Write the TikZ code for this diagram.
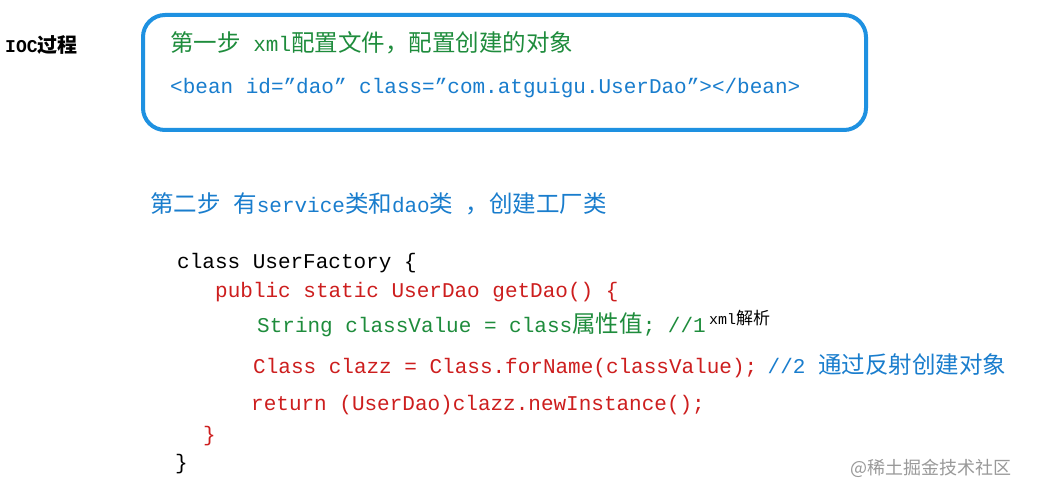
\documentclass[tikz,border=0pt]{standalone}
\usepackage{fontspec}
\setmainfont{Liberation Mono}
\newfontfamily\cjk{Noto Sans CJK SC}
\newcommand{\C}[1]{{\cjk\fontsize{23.5}{23.5}\selectfont #1}}
\definecolor{cgreen}{RGB}{30,140,60}
\definecolor{cblue}{RGB}{25,125,205}
\definecolor{cred}{RGB}{205,30,30}
\definecolor{cbox}{RGB}{30,145,225}
\begin{document}
\begin{tikzpicture}[x=1pt,y=-1pt,
  code/.style={anchor=base west,inner sep=0pt,font=\fontsize{21}{21}\selectfont}]
\useasboundingbox (0,0) rectangle (1038,494);
\fill[white] (0,0) rectangle (1038,494);
\node[code,font=\fontsize{18}{18}\selectfont\bfseries] (ioc) at (5,53) {IOC{\cjk\fontsize{20}{20}\selectfont\bfseries 过程}};
\draw[cbox,line width=4pt,rounded corners=22pt] (143,15) rectangle (866,130);
\node[code,text=cgreen] (s1) at (170,52) {\C{第一步} xml\C{配置文件，配置创建的对象}};
\node[code,text=cblue] (bean) at (170,94) {<bean id="dao" class="com.atguigu.UserDao"></bean>};
\node[code,text=cblue] (s2) at (150,213) {\C{第二步} \C{有}service\C{类和}dao\C{类} \C{，创建工厂类}};
\node[code] (l1) at (177,269) {class UserFactory \{};
\node[code,text=cred] (l2) at (215,298) {public static UserDao getDao() \{};
\node[code,text=cgreen] (l3) at (257,332) {String classValue = class\C{属性值}; //1};
\node[anchor=base west,inner sep=0pt,font=\fontsize{15}{15}\selectfont] (l3b) at ([xshift=3pt,yshift=8pt]l3.base east) {xml{\cjk\fontsize{17}{17}\selectfont 解析}};
\node[code,text=cred] (l4) at (253,373) {Class clazz = Class.forName(classValue);};
\node[code,text=cblue] (l4b) at ([xshift=10pt]l4.base east) {//2 \C{通过反射创建对象}};
\node[code,text=cred] (l5) at (251,410) {return (UserDao)clazz.newInstance();};
\node[code,text=cred] (l6) at (203,441) {\}};
\node[code] (l7) at (175,469) {\}};
\node[anchor=base west,inner sep=0pt,text=black!40,font=\cjk\fontsize{18}{18}\selectfont] (wm) at (850,474) {@稀土掘金技术社区};
\end{tikzpicture}
\end{document}
